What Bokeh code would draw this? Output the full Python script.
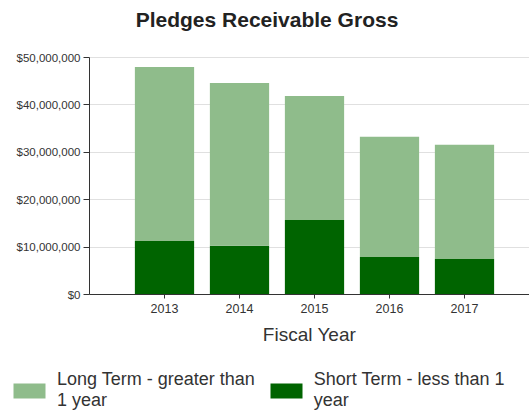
from bokeh.plotting import figure
from bokeh.models import (ColumnDataSource, Legend, LegendItem, FixedTicker,
                          NumeralTickFormatter, Range1d, Label)
from bokeh.embed import file_html
from bokeh.resources import INLINE

title_text = "Pledges Receivable Gross"
x_title = "Fiscal Year"
years = [2013, 2014, 2015, 2016, 2017]
year_labels = ["2013", "2014", "2015", "2016", "2017"]
short_term = [11.3e6, 10.3e6, 15.7e6, 7.9e6, 7.5e6]
long_term = [36.7e6, 34.3e6, 26.2e6, 25.4e6, 24.1e6]
y_ticks = [0, 10e6, 20e6, 30e6, 40e6, 50e6]

FONT = "Liberation Sans"
LIGHT = "#8fbc8b"
DARK = "#006400"

# layout (pixels): canvas, plot-area edges, category spacing
W, H = 529, 412
TOP_PX, AX_LEFT_PX, ZERO_PX, CAT_PX = 57, 89, 294, 75
Y_MAX = 50e6
px_per_unit_y = (ZERO_PX - TOP_PX) / Y_MAX
x_axis_start = years[0] - 1.0
x_lo = x_axis_start - AX_LEFT_PX / CAT_PX
x_hi = x_axis_start + (W - AX_LEFT_PX) / CAT_PX
y_lo = -(H - ZERO_PX) / px_per_unit_y
y_hi = Y_MAX + TOP_PX / px_per_unit_y

src = ColumnDataSource(dict(
    x=years,
    short=short_term,
    long=long_term,
    total=[s + l for s, l in zip(short_term, long_term)],
))

p = figure(width=W, height=H, title=None, output_backend="svg",
           toolbar_location=None,
           x_range=Range1d(x_lo, x_hi), y_range=Range1d(y_lo, y_hi),
           min_border_left=0, min_border_right=0, min_border_top=0,
           min_border_bottom=0)

p.outline_line_color = None
p.background_fill_color = "white"
p.border_fill_color = "white"

r_short = p.vbar(x="x", bottom=0, top="short", width=0.79, source=src,
                 fill_color=DARK, line_color=None)
r_long = p.vbar(x="x", bottom="short", top="total", width=0.79, source=src,
                fill_color=LIGHT, line_color=None)

p.add_layout(Label(x=W / 2 + 2, y=H - 19, x_units="screen", y_units="screen",
                   text=title_text, text_align="center",
                   text_baseline="alphabetic", text_font=FONT,
                   text_font_size="21px", text_font_style="bold",
                   text_color="#222222"))

xa = p.xaxis[0]
xa.fixed_location = 0
xa.bounds = (x_axis_start, x_hi)
xa.ticker = FixedTicker(ticks=years)
xa.major_label_overrides = {y: l for y, l in zip(years, year_labels)}
xa.axis_label = x_title
xa.axis_label_text_font = FONT
xa.axis_label_text_font_size = "19px"
xa.axis_label_text_font_style = "normal"
xa.axis_label_text_color = "#333333"
xa.axis_label_standoff = 8
xa.major_label_text_font = FONT
xa.major_label_text_font_size = "12.5px"
xa.major_label_text_color = "#333333"
xa.major_tick_in = 0
xa.major_tick_out = 4
xa.minor_tick_line_color = None
xa.axis_line_color = "#333333"
xa.major_tick_line_color = "#333333"

ya = p.yaxis[0]
ya.fixed_location = x_axis_start
ya.bounds = (0, Y_MAX)
ya.ticker = FixedTicker(ticks=y_ticks)
ya.formatter = NumeralTickFormatter(format="$0,0")
ya.major_label_text_font = FONT
ya.major_label_text_font_size = "11.5px"
ya.major_label_text_color = "#333333"
ya.major_tick_in = 0
ya.major_tick_out = 6
ya.major_label_standoff = 3
ya.minor_tick_line_color = None
ya.axis_line_color = "#333333"
ya.major_tick_line_color = "#333333"

p.xgrid.grid_line_color = None
p.ygrid.ticker = ya.ticker
p.ygrid.bounds = (0, Y_MAX)
p.ygrid.cross_bounds = (x_axis_start, x_hi)
p.ygrid.grid_line_color = "#e0e0e0"

legend = Legend(items=[
    LegendItem(label="Long Term - greater than\n1 year", renderers=[r_long]),
    LegendItem(label="Short Term - less than 1\nyear", renderers=[r_short]),
], orientation="horizontal", location=(9, 1))
legend.margin = 0
legend.padding = 0
legend.spacing = 11
legend.glyph_width = 40
legend.glyph_height = 19
legend.label_standoff = 8
legend.label_text_font = FONT
legend.label_text_font_size = "18px"
legend.label_text_color = "#333333"
legend.label_text_line_height = 1.0
legend.border_line_color = None
legend.background_fill_alpha = 0
p.add_layout(legend, "center")

open("out.html", "w").write(file_html(p, INLINE))
